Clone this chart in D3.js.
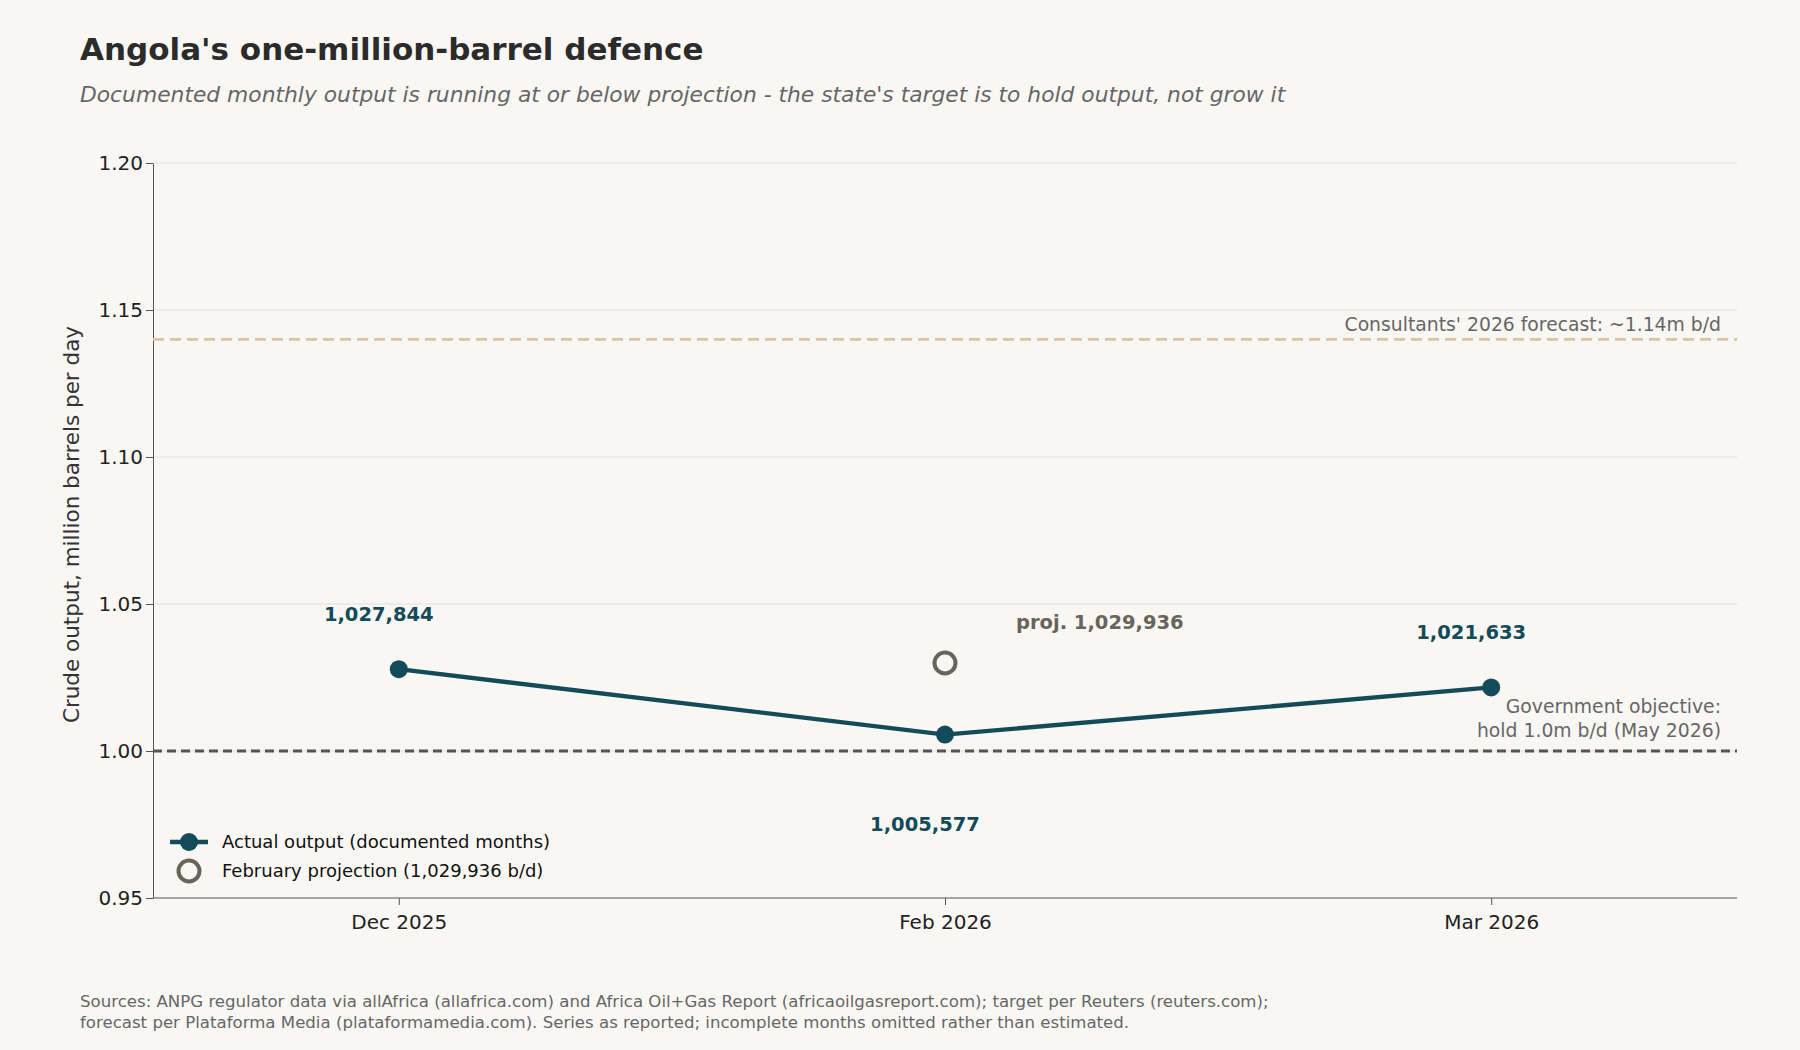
<!DOCTYPE html>
<html>
<head>
<meta charset="utf-8">
<script src="https://cdn.jsdelivr.net/npm/d3@7"></script>
<style>
  body { margin: 0; background: #f9f7f3; font-family: "DejaVu Sans", sans-serif; }
</style>
</head>
<body>
<svg id="chart" width="1800" height="1050"></svg>
<script>
const months = ['Dec 2025', 'Feb 2026', 'Mar 2026']
const actual = [1027844, 1005577, 1021633]
const projMonth = 'Feb 2026'
const projValue = 1029936
const yTicks = [0.95, 1.00, 1.05, 1.10, 1.15, 1.20]
const targetLevel = 1.0
const forecastLevel = 1.14

const svg = d3.select('#chart')
const m = { left: 153, right: 1737, top: 163, bottom: 898 }

const x = d3.scalePoint().domain(months).range([m.left, m.right]).padding(0.45)
const y = d3.scaleLinear().domain([0.95, 1.2]).range([m.bottom, m.top])

// title + subtitle
svg.append('text').attr('x', 80).attr('y', 60).text("Angola's one-million-barrel defence")
  .attr('font-size', 31).attr('font-weight', 'bold').attr('fill', '#2b2b2b')
svg.append('text').attr('x', 80).attr('y', 102)
  .text("Documented monthly output is running at or below projection - the state's target is to hold output, not grow it")
  .attr('font-size', 21.8).attr('font-style', 'italic').attr('fill', '#666')

// grid
svg.append('g').selectAll('line').data(yTicks.slice(1)).join('line')
  .attr('x1', m.left).attr('x2', m.right)
  .attr('y1', d => y(d)).attr('y2', d => y(d))
  .attr('stroke', '#e3e0da').attr('stroke-width', 1.2)

// axes
const yAxis = svg.append('g').attr('transform', `translate(${m.left},0)`)
  .call(d3.axisLeft(y).tickValues(yTicks).tickFormat(d3.format('.2f')).tickSize(7).tickSizeOuter(0))
yAxis.selectAll('text').attr('font-size', 20).attr('fill', '#222').attr('font-family', 'DejaVu Sans')
yAxis.selectAll('path, line').attr('stroke', '#555')

const xAxis = svg.append('g').attr('transform', `translate(0,${m.bottom})`)
  .call(d3.axisBottom(x).tickSize(7).tickSizeOuter(0))
xAxis.selectAll('text').attr('font-size', 20).attr('fill', '#222').attr('font-family', 'DejaVu Sans').attr('dy', '1.05em')
xAxis.selectAll('path, line').attr('stroke', '#555')
xAxis.select('path').attr('d', `M${m.left},0H${m.right}`)

svg.append('text')
  .attr('transform', `translate(79,${(m.top + m.bottom) / 2 - 6}) rotate(-90)`)
  .attr('text-anchor', 'middle').attr('font-size', 21.5).attr('fill', '#333')
  .text('Crude output, million barrels per day')

// reference lines
svg.append('line').attr('x1', m.left).attr('x2', m.right)
  .attr('y1', y(forecastLevel)).attr('y2', y(forecastLevel))
  .attr('stroke', '#dcc49a').attr('stroke-width', 2.8).attr('stroke-dasharray', '11,6')
svg.append('text').attr('x', m.right - 16).attr('y', y(forecastLevel) - 8)
  .attr('text-anchor', 'end').attr('font-size', 18.8).attr('fill', '#666')
  .text("Consultants' 2026 forecast: ~1.14m b/d")

svg.append('line').attr('x1', m.left).attr('x2', m.right)
  .attr('y1', y(targetLevel)).attr('y2', y(targetLevel))
  .attr('stroke', '#555').attr('stroke-width', 2.8).attr('stroke-dasharray', '9,5')
svg.append('text').attr('x', m.right - 16).attr('y', y(targetLevel) - 38)
  .attr('text-anchor', 'end').attr('font-size', 18.8).attr('fill', '#666')
  .text('Government objective:')
svg.append('text').attr('x', m.right - 16).attr('y', y(targetLevel) - 14)
  .attr('text-anchor', 'end').attr('font-size', 18.8).attr('fill', '#666')
  .text('hold 1.0m b/d (May 2026)')

// actual series
const data = months.map((mo, i) => ({ mo, v: actual[i] / 1e6, raw: actual[i] }))
svg.append('path').datum(data)
  .attr('d', d3.line().x(d => x(d.mo)).y(d => y(d.v)))
  .attr('fill', 'none').attr('stroke', '#144b5a').attr('stroke-width', 4.3)
svg.append('g').selectAll('circle').data(data).join('circle')
  .attr('cx', d => x(d.mo)).attr('cy', d => y(d.v)).attr('r', 9).attr('fill', '#144b5a')

const fmt = d3.format(',')
svg.append('g').selectAll('text').data(data).join('text')
  .attr('x', d => x(d.mo) - 20)
  .attr('y', (d, i) => i === 1 ? y(d.v) + 96 : y(d.v) - 48)
  .attr('text-anchor', 'middle').attr('font-size', 19.5).attr('font-weight', 'bold').attr('fill', '#144b5a')
  .text(d => fmt(d.raw))

// projection
svg.append('circle').attr('cx', x(projMonth)).attr('cy', y(projValue / 1e6)).attr('r', 10.5)
  .attr('fill', '#f9f7f3').attr('stroke', '#67645a').attr('stroke-width', 4)
svg.append('text').attr('x', x(projMonth) + 71).attr('y', y(projValue / 1e6) - 34)
  .attr('font-size', 19.5).attr('font-weight', 'bold').attr('fill', '#67645a')
  .text('proj. ' + fmt(projValue))

// legend
const lg = svg.append('g').attr('transform', 'translate(170,842)')
lg.append('line').attr('x1', 0).attr('x2', 38).attr('y1', 0).attr('y2', 0).attr('stroke', '#144b5a').attr('stroke-width', 4.3)
lg.append('circle').attr('cx', 19).attr('cy', 0).attr('r', 9).attr('fill', '#144b5a')
lg.append('text').attr('x', 52).attr('y', 6).attr('font-size', 18).attr('fill', '#111').text('Actual output (documented months)')
lg.append('circle').attr('cx', 19).attr('cy', 29).attr('r', 10.5).attr('fill', 'none').attr('stroke', '#67645a').attr('stroke-width', 4)
lg.append('text').attr('x', 52).attr('y', 35).attr('font-size', 18).attr('fill', '#111').text('February projection (1,029,936 b/d)')

// sources
svg.append('text').attr('x', 80).attr('y', 1007).attr('font-size', 16.6).attr('fill', '#666')
  .text('Sources: ANPG regulator data via allAfrica (allafrica.com) and Africa Oil+Gas Report (africaoilgasreport.com); target per Reuters (reuters.com);')
svg.append('text').attr('x', 80).attr('y', 1028).attr('font-size', 16.6).attr('fill', '#666')
  .text('forecast per Plataforma Media (plataformamedia.com). Series as reported; incomplete months omitted rather than estimated.')
</script>
</body>
</html>
